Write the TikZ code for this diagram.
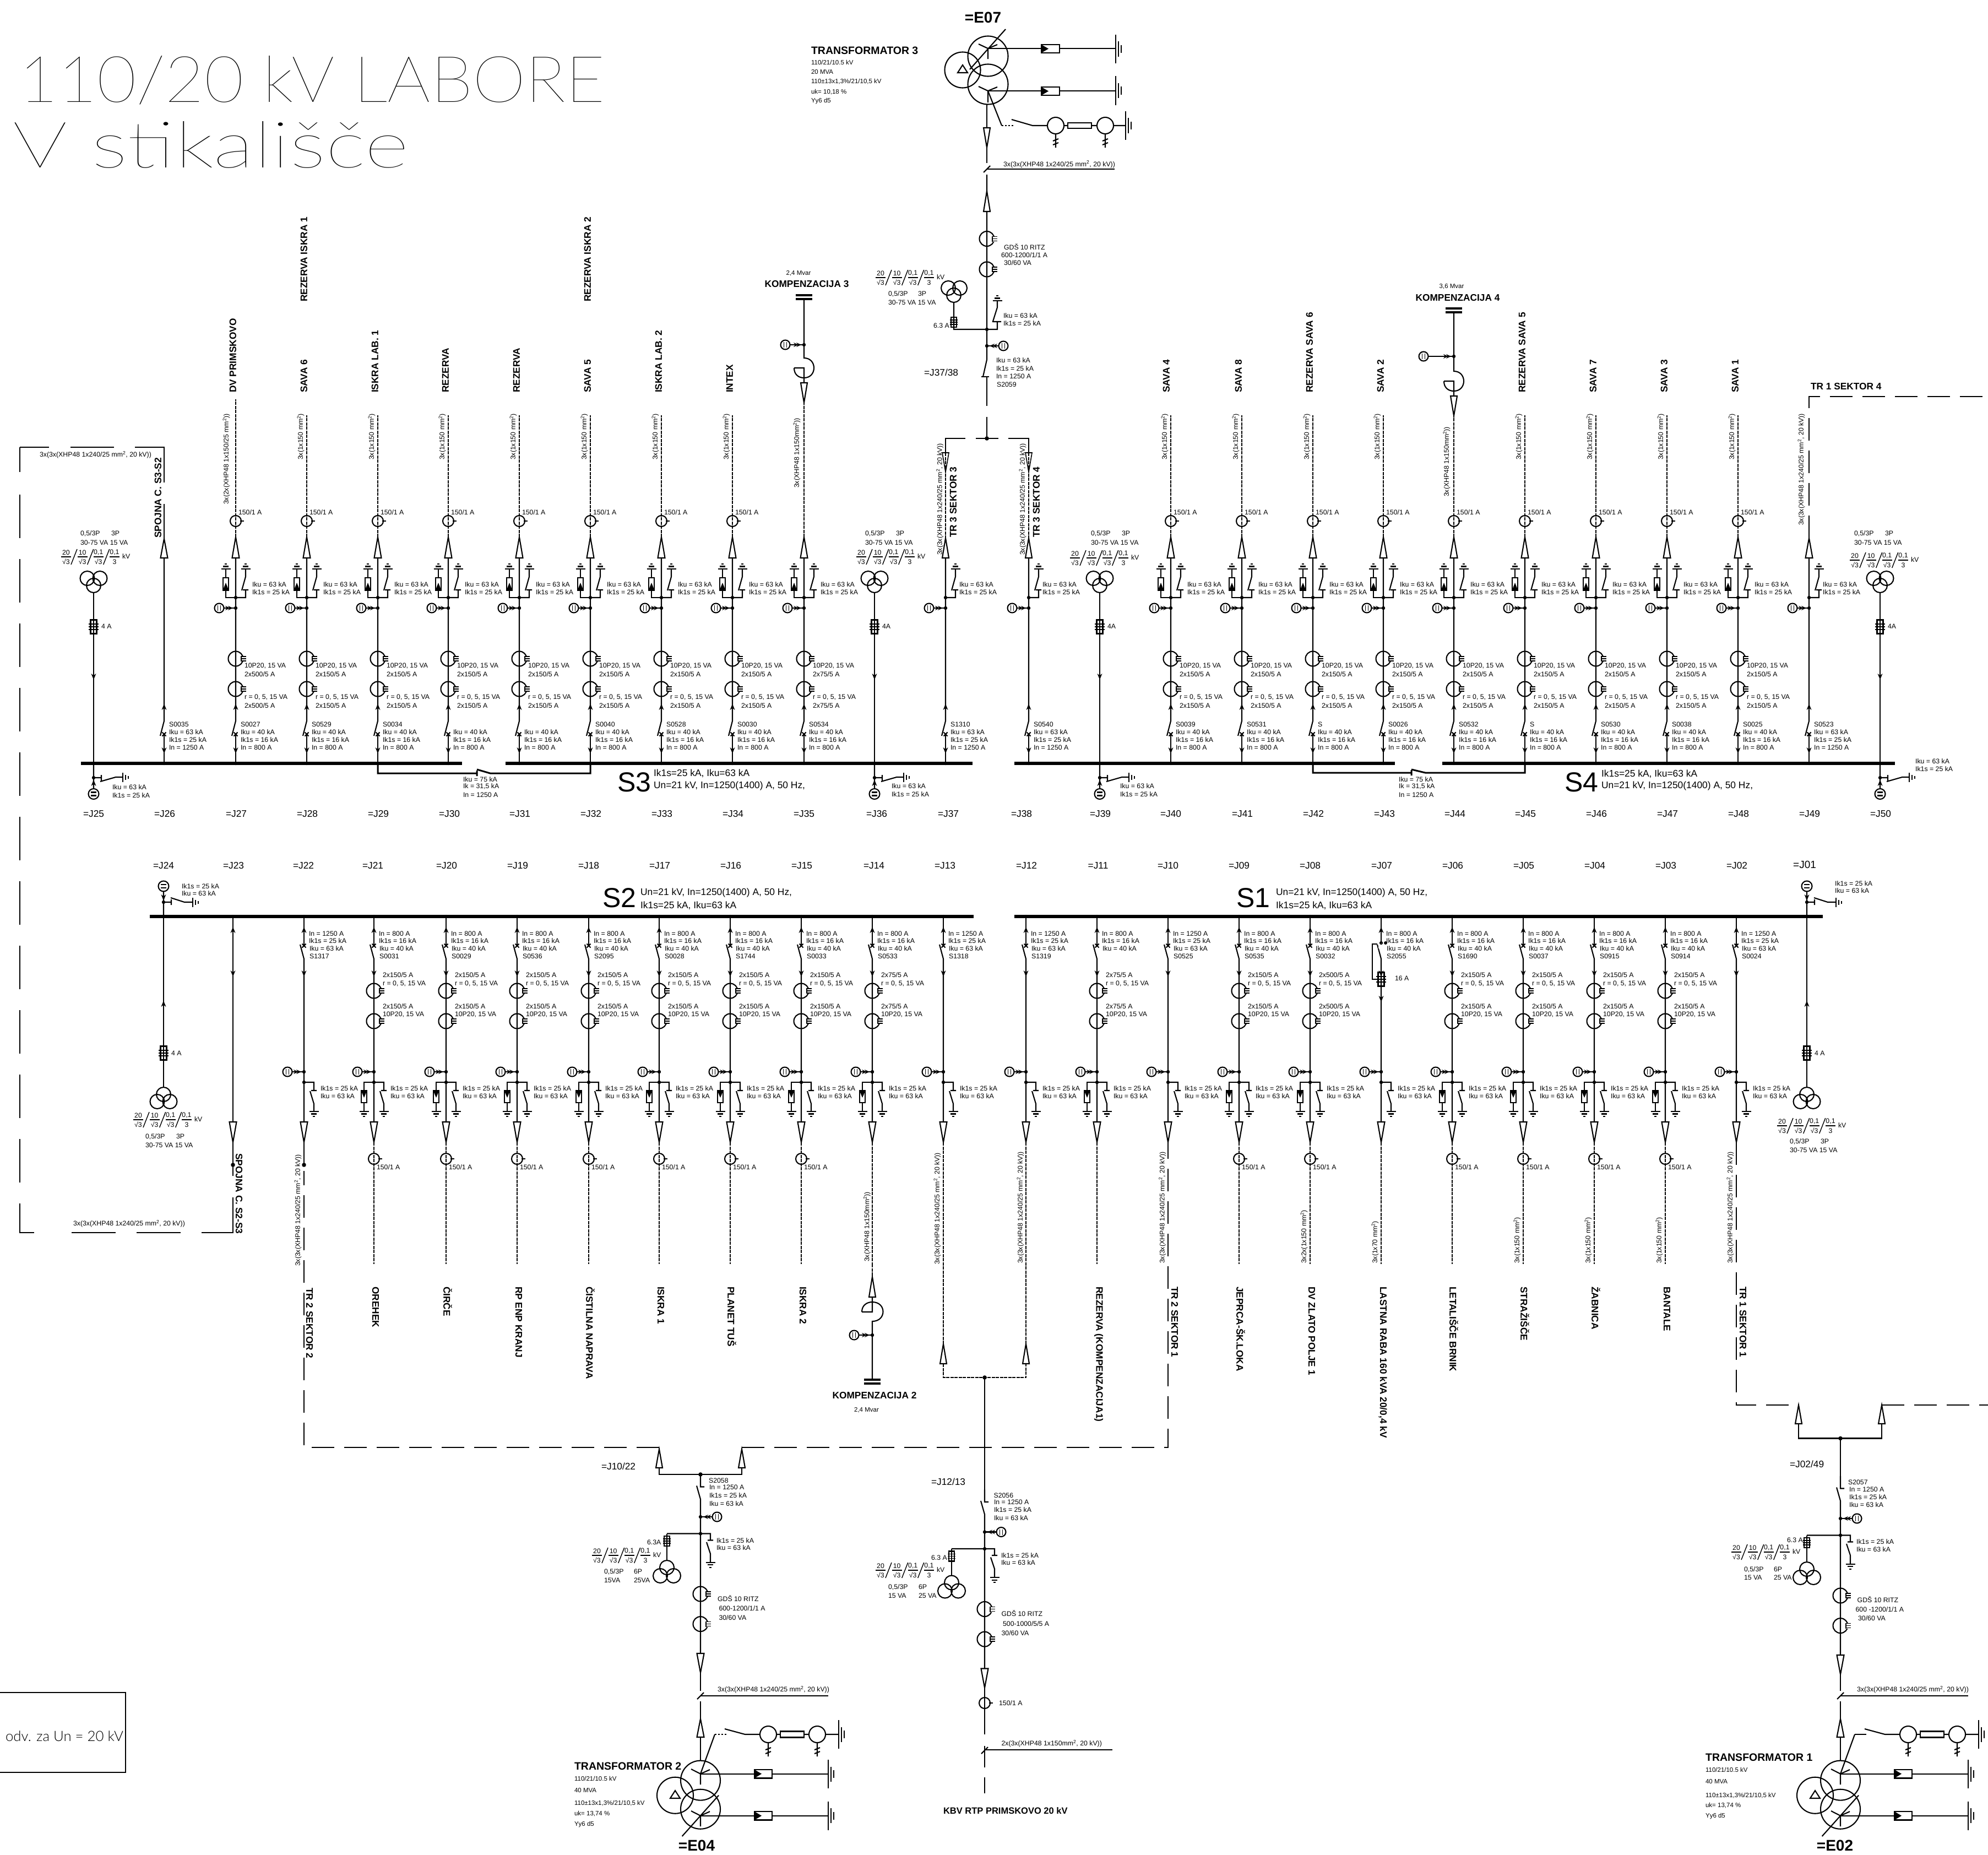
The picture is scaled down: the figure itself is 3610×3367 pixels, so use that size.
\documentclass[tikz,border=0pt]{standalone}
\usepackage{fontspec}
\setmainfont{Liberation Sans}
\setsansfont{Liberation Sans}
\newfontfamily\hairfont{Lato Hairline}
\newfontfamily\lightfont{Lato Light}
\newcounter{nn}
\tikzset{
 auton/.style={/utils/exec={\stepcounter{nn}},name=n\arabic{nn}},
 lab/.style={auton,inner sep=0pt,anchor=base west,yshift=-4.5pt,font=\fontsize{12.3}{14}\selectfont,black},
 trd/.style={auton,inner sep=0pt,anchor=base west,yshift=-4pt,font=\fontsize{11.5}{13}\selectfont},
 cab/.style={auton,inner sep=0pt,anchor=west,font=\fontsize{12.3}{14}\selectfont},
 fr/.style={auton,inner sep=0pt,font=\fontsize{12.3}{14}\selectfont},
 nmU/.style={auton,inner sep=0pt,anchor=west,rotate=90,font=\bfseries\fontsize{17.3}{19}\selectfont},
 nmD/.style={auton,inner sep=0pt,anchor=west,rotate=-90,font=\bfseries\fontsize{17.3}{19}\selectfont},
 jl/.style={auton,inner sep=0pt,font=\fontsize{17.3}{19}\selectfont},
 ttl/.style={auton,inner sep=0pt,font=\bfseries\fontsize{19.5}{21}\selectfont},
 ept/.style={auton,inner sep=0pt,font=\bfseries\fontsize{28}{30}\selectfont},
 sbig/.style={auton,inner sep=0pt,font=\fontsize{50}{52}\selectfont},
 smid/.style={auton,inner sep=0pt,anchor=west,font=\fontsize{17.4}{19}\selectfont},
 busbar/.style={line width=5.5pt},
 cpl/.style={line width=3pt},
 lng/.style={dash pattern=on 79pt off 38pt},
 mid/.style={dash pattern=on 41pt off 18pt},
 cabdash/.style={line width=1.7pt,dash pattern=on 6pt off 1.5pt},
 fine/.style={line width=1.4pt},
}
\newcommand\lb[3]{\node[lab] at (#1,#2) {#3};}
\newcommand\rlb[3]{\node[cab,rotate=90] at (#1,#2) {#3};}
\newcommand\kdot[2]{\fill (#1,#2) circle (3.2pt);}
\newcommand\chevU[2]{\fill (#1,#2) -- ++(-4.5,11) -- ++(4.5,-3.5) -- ++(4.5,3.5) -- cycle;}
\newcommand\chevD[2]{\fill (#1,#2) -- ++(-4.5,-11) -- ++(4.5,3.5) -- ++(4.5,-3.5) -- cycle;}
\newcommand\cross[2]{\draw ({#1-3.5},{#2-3.5}) -- ({#1+3.5},{#2+3.5}) ({#1-3.5},{#2+3.5}) -- ({#1+3.5},{#2-3.5});}
\newcommand\tri[4]{\draw[fill=white] (#1,#2) -- ({#1-#4},#3) -- ({#1+#4},#3) -- cycle;}
\newcommand\earthU[2]{\draw ({#1-8.5},#2) -- ({#1+8.5},#2) ({#1-5},{#2-4.5}) -- ({#1+5},{#2-4.5}) ({#1-2},{#2-9}) -- ({#1+2},{#2-9});}
\newcommand\earthD[2]{\draw ({#1-8.5},#2) -- ({#1+8.5},#2) ({#1-5},{#2+4.5}) -- ({#1+5},{#2+4.5}) ({#1-2},{#2+9}) -- ({#1+2},{#2+9});}
\newcommand\earthS[3]{\draw (#1,#2) -- (#1,#3) ({#1+5},{#2+(#3-#2)*.24}) -- ({#1+5},{#3-(#3-#2)*.24}) ({#1+10},{#2+(#3-#2)*.36}) -- ({#1+10},{#3-(#3-#2)*.36});}
\newcommand\ct[2]{\draw (#1,#2) circle (13.5pt);\fill[white] ({#1+9},{#2-5}) rectangle ({#1+16},{#2+5});
 \draw[fine] ({#1+9},{#2-4}) -- ({#1+19},{#2-4}) ({#1+9},#2) -- ({#1+19},#2) ({#1+9},{#2+4}) -- ({#1+19},{#2+4}) ({#1+10},{#2-5}) -- ({#1+10},{#2+5});}
\newcommand\term[2]{\draw (#1,#2) circle (10pt);\draw ({#1+8},#2) -- ({#1+15},#2);}
\newcommand\sensbody[2]{\draw (#1,#2) circle (8.5pt);\draw[fine] ({#1-2.5},{#2-5}) -- ({#1-2.5},{#2+5}) ({#1+2.5},{#2-5}) -- ({#1+2.5},{#2+5});}
% sensor: #1 line x, #2 y, #3 signed offset of the circle
\newcommand\sensL[3]{\sensbody{#1-#3}{#2}\draw ({#1-#3+8.5},#2) -- (#1,#2);
 \fill ({#1-5},#2) -- ++(-9,-4) -- ++(3,4) -- ++(-3,4) -- cycle;\fill ({#1-10},#2) -- ++(-9,-4) -- ++(3,4) -- ++(-3,4) -- cycle;\kdot{#1}{#2}}
\newcommand\sensR[3]{\sensbody{#1+#3}{#2}\draw ({#1+#3-8.5},#2) -- (#1,#2);
 \fill ({#1+5},#2) -- ++(9,-4) -- ++(-3,4) -- ++(3,4) -- cycle;\fill ({#1+10},#2) -- ++(9,-4) -- ++(-3,4) -- ++(3,4) -- cycle;\kdot{#1}{#2}}
\newcommand\fuse[2]{\draw ({#1-5.5},{#2-12.5}) rectangle ({#1+5.5},{#2+12.5});
 \draw[fine] ({#1-9},{#2-5}) -- ({#1+9},{#2-5}) ({#1-9},#2) -- ({#1+9},#2) ({#1-9},{#2+5}) -- ({#1+9},{#2+5}) (#1,{#2-12}) -- (#1,{#2+12});}
\newcommand\sfuse[2]{\draw ({#1-5},{#2-9}) rectangle ({#1+5},{#2+9});
 \draw[fine] ({#1-7},{#2-4}) -- ({#1+7},{#2-4}) ({#1-7},#2) -- ({#1+7},#2) ({#1-7},{#2+4}) -- ({#1+7},{#2+4});}
% ratio label of a voltage transformer
\newcommand\frc[2]{\begin{scope}[shift={(#1,#2)}]
 \foreach \fd/\ft/\fb in {-52/20/√3,-22.3/10/√3,6.7/{0,1}/√3,36/{0,1}/3}{
  \node[fr] at (\fd,-8) {\ft};\node[fr] at (\fd,9) {\fb};\draw[fine] ({\fd-9},0) -- ({\fd+9},0);}
 \foreach \fd in {-52,-22.3,6.7}{\draw[fine] ({\fd+9},14) -- ({\fd+20},-14);}
 \node[fr,anchor=west] at (49,-1) {kV};\end{scope}}
\newcommand\mmq{\textsuperscript{2}}
\newcommand\cabA{3x(3x(XHP48 1x240/25 mm\mmq, 20 kV))}
\newcommand\cabB{3x(1x150 mm\mmq)}
\newcommand\cabC{3x(XHP48 1x150mm\mmq))}
% ---------- top (S3,S4) bays
\newcommand\tsw[5]{\begin{scope}[shift={(#1,0)}]
 \coordinate (tA#1) at (0,1013);\coordinate (tB#1) at (0,1309);\coordinate (tC#1) at (0,1333);\coordinate (tD#1) at (0,1386);
 \draw (tA#1) -- (tB#1) -- (-7,1336);\draw (tC#1) -- (tD#1);\cross{0}{1333}
 \chevU{0}{1278}\chevD{0}{1368}\kdot{0}{1386}
 \lb{8}{1315}{#2}\lb{8}{1329}{#3}\lb{8}{1343}{#4}\lb{8}{1357}{#5}
 \end{scope}}
\newcommand\tearth[2]{\begin{scope}[shift={(#1,0)}]
 \draw (0,1085) -- (18,1085) -- (18,1071) (13,1071) -- (23,1071) (11,1072) -- (18,1047) -- (18,1033);\earthU{18}{1033}\kdot{0}{1085}
 \sensL{0}{1104}{30}\lb{#2}{1061}{Iku = 63 kA}\lb{#2}{1075}{Ik1s = 25 kA}\end{scope}}
\newcommand\tarr[1]{\begin{scope}[shift={(#1,0)}]
 \draw (0,1085) -- (-18,1085) -- (-18,1072) (-18,1049) -- (-18,1033);\earthU{-18}{1033}
 \draw (-23,1049) rectangle (-13,1072);\fill (-23.5,1072) -- (-12.5,1072) -- (-18,1058) -- cycle;\end{scope}}
\newcommand\tcts[2]{\begin{scope}[shift={(#1,0)}]\ct{0}{1196}\ct{0}{1251}
 \lb{15}{1208}{10P20, 15 VA}\lb{15}{1224}{#2}\lb{15}{1265}{r = 0, 5, 15 VA}\lb{15}{1281}{#2}\end{scope}}
\newcommand\tfull[5]{\tsw{#1}{#2}{Iku = 40 kA}{Ik1s = 16 kA}{In = 800 A}\tearth{#1}{29}\tarr{#1}\tcts{#1}{#3}
 \begin{scope}[shift={(#1,0)}]\draw[cabdash] (0,975) -- (0,#4);\tri{0}{975}{1013}{6.5}
 \ifnum#5=1 \term{0}{946}\lb{4}{930}{150/1 A}\fi\end{scope}}
% ---------- bottom (S2,S1) bays
\newcommand\bsw[5]{\begin{scope}[shift={(#1,0)}]
 \coordinate (bA#1) at (0,1664);\coordinate (bB#1) at (0,1717);\coordinate (bC#1) at (0,1741);\coordinate (bD#1) at (0,2037);
 \draw (bA#1) -- (bB#1);\draw (-7,1715) -- (bC#1) -- (bD#1);\cross{0}{1717}
 \chevU{0}{1683}\chevD{0}{1773}\kdot{0}{1664}
 \lb{8}{1695}{#2}\lb{8}{1708}{#3}\lb{9}{1722}{#4}\lb{9}{1736}{#5}
 \end{scope}}
\newcommand\bearth[1]{\begin{scope}[shift={(#1,0)}]
 \draw (0,1965) -- (18,1965) -- (18,1980) (13,1980) -- (23,1980) (11,1981) -- (18,2004) -- (18,2018);\earthD{18}{2018}\kdot{0}{1965}
 \sensL{0}{1946}{30}\lb{29}{1976}{Ik1s = 25 kA}\lb{29}{1990}{Iku = 63 kA}\end{scope}}
\newcommand\barr[1]{\begin{scope}[shift={(#1,0)}]
 \draw (0,1965) -- (-18,1965) -- (-18,1980) (-18,2002) -- (-18,2018);\earthD{-18}{2018}
 \draw (-23,1980) rectangle (-13,2002);\fill (-23.5,1980) -- (-12.5,1980) -- (-18,1993) -- cycle;\end{scope}}
\newcommand\bcts[2]{\begin{scope}[shift={(#1,0)}]\ct{0}{1799}\ct{0}{1854}
 \lb{15}{1770}{#2}\lb{15}{1785}{r = 0, 5, 15 VA}\lb{15}{1827}{#2}\lb{15}{1841}{10P20, 15 VA}\end{scope}}
\newcommand\bfeed[2]{\begin{scope}[shift={(#1,0)}]\draw[cabdash] (0,2074) -- (0,2295);\tri{0}{2074}{2037}{6.5}
 \ifnum#2=1 \term{0}{2104}\lb{4}{2119}{150/1 A}\fi\end{scope}}
\newcommand\bfull[4]{\bsw{#1}{In = 800 A}{Ik1s = 16 kA}{Iku = 40 kA}{#2}\bearth{#1}\barr{#1}\bcts{#1}{#3}\bfeed{#1}{#4}}
\newcommand\bplain[2]{\bsw{#1}{In = 1250 A}{Ik1s = 25 kA}{Iku = 63 kA}{#2}\bearth{#1}\begin{scope}[shift={(#1,0)}]\tri{0}{2074}{2037}{6.5}\end{scope}}
% ---------- voltage transformers on the busbars
\newcommand\vtT[5]{\begin{scope}[shift={(#1,0)}]
 \draw (-11.5,1050) circle (13pt) (11.5,1050) circle (13pt) (0,1063) circle (13pt);
 \coordinate (vA#1) at (0,1076);\coordinate (vB#1) at (0,1386);\draw (vA#1) -- (vB#1);\fuse{0}{1138}\chevD{0}{1234}\kdot{0}{1386}
 \lb{13}{1137}{#2}\lb{#3}{968}{0,5/3P}\lb{#3+56}{968}{3P}\lb{#3}{985}{30-75 VA 15 VA}\frc{#4}{#5}\end{scope}}
\newcommand\escT[3]{\begin{scope}[shift={(#1,0)}]
 \draw (0,1386) -- (0,1432) (0,1412) -- (14,1412) (14,1407) -- (14,1417) (12,1419) -- (40,1411) -- (53,1411);
 \earthS{53}{1403}{1420}\chevU{0}{1416}\kdot{0}{1412}\draw (0,1441.5) circle (9.5pt);\draw (-5,1438.5) -- (5,1438.5) (-5,1444.5) -- (5,1444.5);\end{scope}
 \lb{#2}{#3}{Iku = 63 kA}\lb{#2}{#3+14.5}{Ik1s = 25 kA}}
\newcommand\vtB[6]{\begin{scope}[shift={(#1,0)}]
 \draw (0,1987) circle (13pt) (-11.5,2000) circle (13pt) (11.5,2000) circle (13pt);
 \coordinate (wA#1) at (0,1664);\coordinate (wB#1) at (0,1974);\draw (wA#1) -- (wB#1);\fuse{0}{1912}\chevU{0}{1817}\kdot{0}{1664}
 \lb{13}{1912}{4 A}\lb{#2}{#5}{0,5/3P}\lb{#2+56}{#5}{3P}\lb{#2}{#5+16}{30-75 VA 15 VA}\frc{#3}{#4}\end{scope}}
\newcommand\escB[1]{\begin{scope}[shift={(#1,0)}]
 \draw (0,1664) -- (0,1618) (0,1638) -- (14,1638) (14,1633) -- (14,1643) (13,1630) -- (38,1638) -- (53,1638);
 \earthS{53}{1630}{1647}\chevD{0}{1635}\kdot{0}{1638}\draw (0,1609) circle (9.5pt);\draw (-5,1606) -- (5,1606) (-5,1612) -- (5,1612);\end{scope}}
% ---------- compensation plates
\newcommand\capp[2]{\draw[line width=3.4pt] ({#1-15},#2) -- ({#1+15},#2) ({#1-15},{#2+7}) -- ({#1+15},{#2+7});}
% ---------- outgoing feeders towards the transformers
\newcommand\feeder[4]{\begin{scope}[shift={(#1,#2)}]
 \draw (0,2677) -- (0,2699.5) -- (7,2699.5) (-7,2697.5) -- (0,2722) -- (0,3002);\sensR{0}{2754}{30}
 \draw (#3,2784.5) -- (18,2784.5) -- (18,2796.5) (13,2796.5) -- (23,2796.5) (11,2800) -- (18,2821) -- (18,2836.6);\earthD{18}{2836.6}\kdot{0}{2784.5}
 \draw (#3,2784.5) -- (#3,2833);\sfuse{#3}{2798}
 \draw (#3,2846) circle (13pt) ({#3-12},2861) circle (13pt) ({#3+12},2861) circle (13pt);
 \ct{0}{2894}\ct{0}{2948.6}\tri{0}{3037}{3002}{6.5}\end{scope}}
\newcommand\trafo[3]{\begin{scope}[shift={(#1,0)}]
 \coordinate (cA#1) at (0,3089);\coordinate (cB#1) at (0,3197);\draw (cA#1) -- (cB#1);\draw (0,3069.5) -- (0,3037);
 \draw (-6,3085) -- (6,3073);\tri{0}{3120.6}{3154}{6.5}
 \draw (0,3232.6) circle (36pt) (0,3284.7) circle (36pt) (-46,3259.7) circle (33pt);
 \draw (-46,3251) -- (-55,3265) -- (-37,3265) -- cycle;
 \draw (-17,3212) -- (0,3220.6) -- (17,3213) (0,3220.6) -- (0,3240);
 \draw (-17,3288) -- (0,3296.7) -- (17,3289) (0,3296.7) -- (0,3316);
 \draw (-33.4,3334) -- (33,3259.7);
 \draw (0,3220.6) -- (98,3220.6) (130,3220.6) -- (232,3220.6);\earthS{232}{3195}{3247}
 \draw (0,3296.7) -- (98,3296.7) (130,3296.7) -- (232,3296.7);\earthS{232}{3270.7}{3322.8}
 \draw (98,3213) rectangle (130,3228.5) (98,3289) rectangle (130,3304.5);
 \fill (98,3213) -- (111,3220.6) -- (98,3228.5) -- cycle (98,3289) -- (111,3296.7) -- (98,3304.5) -- cycle;
 \draw (0,3220.6) -- (26,3149);#2
 \draw (44,3139) -- (81,3149) -- (108,3149) (138,3149) -- (145,3149) (188,3149) -- (197,3149) (227,3149) -- (251,3149);
 \draw (145,3143.5) rectangle (188,3154.5);\earthS{251}{3123}{3175}
 \draw (123,3149) circle (15pt) (212,3149) circle (15pt);
 \draw (123,3164) -- (123,3189) (118,3177) -- (128,3173) (118,3184) -- (128,3180);
 \draw (212,3164) -- (212,3189) (207,3177) -- (217,3173) (207,3184) -- (217,3180);
 \end{scope}
 \draw (#1,3079) -- (#3,3079);}
\begin{document}
\begin{tikzpicture}[x=1pt,y=-1pt,line width=2.1pt,line cap=butt]
\useasboundingbox (0,0) rectangle (3610,3367);
\fill[white] (0,0) rectangle (3610,3367);
% title
\node[auton,inner sep=0pt,anchor=north west] at (33,100) {\resizebox{1064pt}{84pt}{\hairfont 110/20 kV LABORE}};
\node[auton,inner sep=0pt,anchor=north west] at (22,219) {\resizebox{719pt}{84pt}{\hairfont V stikališče}};
% legend box
\draw (0,3073) -- (228,3073) -- (228,3218) -- (0,3218);
\node[auton,inner sep=0pt,anchor=west,font=\lightfont\fontsize{18}{20}\selectfont] at (9,3152) {\resizebox{214pt}{!}{odv. za Un = 20 kV}};
% busbars
\coordinate (s3a) at (147,1386);\coordinate (s3b) at (839,1386);\coordinate (s3c) at (918,1386);\coordinate (s3d) at (1766,1386);
\coordinate (s4a) at (1842,1386);\coordinate (s4b) at (2533,1386);\coordinate (s4c) at (2619,1386);\coordinate (s4d) at (3441,1386);
\coordinate (s2a) at (272,1664);\coordinate (s2b) at (1768,1664);\coordinate (s1a) at (1842,1664);\coordinate (s1b) at (3310,1664);
\draw[busbar] (s3a) -- (s3b) (s3c) -- (s3d) (s4a) -- (s4b) (s4c) -- (s4d) (s2a) -- (s2b) (s1a) -- (s1b);
% couplers
\draw[cpl] (686,1386) -- (686,1404) -- (866,1404) (866,1399) -- (866,1409) (866,1397) -- (890,1404) -- (1072,1404) -- (1072,1386);
\draw[cpl] (2384,1386) -- (2384,1403) -- (2563,1403) (2563,1398) -- (2563,1408) (2563,1397) -- (2588,1403) -- (2769,1403) -- (2769,1386);
\foreach \xx in {840,2539}{\lb{\xx}{1415}{Iku = 75 kA}\lb{\xx}{1427}{Ik = 31,5 kA}\lb{\xx}{1443}{In = 1250 A}}
% busbar inscriptions
\node[sbig] at (1152,1420) {S3};\node[smid] at (1186,1404) {Ik1s=25 kA, Iku=63 kA};\node[smid] at (1186,1427) {Un=21 kV, In=1250(1400) A, 50 Hz,};
\node[sbig] at (2872,1420) {S4};\node[smid] at (2907,1405) {Ik1s=25 kA, Iku=63 kA};\node[smid] at (2907,1427) {Un=21 kV, In=1250(1400) A, 50 Hz,};
\node[sbig] at (1125,1630) {S2};\node[smid] at (1162,1621) {Un=21 kV, In=1250(1400) A, 50 Hz,};\node[smid] at (1162,1644) {Ik1s=25 kA, Iku=63 kA};
\node[sbig] at (2276,1630) {S1};\node[smid] at (2316,1621) {Un=21 kV, In=1250(1400) A, 50 Hz,};\node[smid] at (2316,1644) {Ik1s=25 kA, Iku=63 kA};
% panel numbers
\foreach \n/\x in {25/170,26/299,27/429,28/558,29/687,30/816,31/944,32/1073,33/1202,34/1331,35/1460,36/1592,37/1722,38/1855,39/1998,40/2126,41/2256,42/2385,43/2514,44/2642,45/2770,46/2899,47/3028,48/3157,49/3286,50/3415}{\node[jl] at (\x,1478) {=J\n};}
\foreach \n/\x in {24/297,23/424,22/551,21/677,20/811,19/940,18/1069,17/1198,16/1327,15/1456,14/1587,13/1716,12/1864,11/1994,10/2121,09/2250,08/2379,07/2509,06/2638,05/2767,04/2896,03/3025,02/3154}{\node[jl] at (\x,1572) {=J\n};}
\node[jl,font=\fontsize{19}{21}\selectfont] at (3277,1570) {=J01};
% ===== S3 / S4 bays
\tfull{428}{S0027}{2x500/5 A}{725}{1}
\tfull{557}{S0529}{2x150/5 A}{754}{1}
\tfull{686}{S0034}{2x150/5 A}{754}{1}
\tfull{814}{}{2x150/5 A}{754}{1}
\tfull{943}{}{2x150/5 A}{754}{1}
\tfull{1072}{S0040}{2x150/5 A}{754}{1}
\tfull{1201}{S0528}{2x150/5 A}{754}{1}
\tfull{1330}{S0030}{2x150/5 A}{754}{1}
\tfull{1460}{S0534}{2x75/5 A}{731}{0}
\tfull{2126}{S0039}{2x150/5 A}{754}{1}
\tfull{2255}{S0531}{2x150/5 A}{754}{1}
\tfull{2384}{S}{2x150/5 A}{754}{1}
\tfull{2512}{S0026}{2x150/5 A}{754}{1}
\tfull{2640}{S0532}{2x150/5 A}{755}{1}
\tfull{2769}{S}{2x150/5 A}{754}{1}
\tfull{2898}{S0530}{2x150/5 A}{754}{1}
\tfull{3027}{S0038}{2x150/5 A}{754}{1}
\tfull{3156}{S0025}{2x150/5 A}{754}{1}
\rlb{411}{917}{3x(2x(XHP48 1x150/25 mm\mmq))}
\foreach \x in {546,675,803,932,1061,1190,1319,2115,2244,2373,2501,2758,2887,3016,3145}{\rlb{\x}{836}{\cabB}}
\rlb{1447}{887}{\cabC}\rlb{2627}{903}{\cabC}
\foreach \x/\t in {423/DV PRIMSKOVO,552/SAVA 6,681/ISKRA LAB. 1,809/REZERVA,938/REZERVA,1067/SAVA 5,1196/ISKRA LAB. 2,1325/INTEX,2118/SAVA 4,2249/SAVA 8,2378/REZERVA SAVA 6,2507/SAVA 2,2764/REZERVA SAVA 5,2893/SAVA 7,3022/SAVA 3,3151/SAVA 1}{\node[nmU] at (\x,714) {\t};}
\node[nmU] at (552,549) {REZERVA ISKRA 1};\node[nmU] at (1067,549) {REZERVA ISKRA 2};
% compensation 3 and 4
\begin{scope}[shift={(1460,0)}]
 \capp{0}{536}\sensL{0}{626}{34}\draw (0,544) -- (0,650) .. controls (24,650) and (24,686) .. (0,686) -- (0,695) (-18,668) -- (0,668) -- (0,686) .. controls (-10,686) and (-18,680) .. (-18,668);\tri{0}{731}{695}{6}
\end{scope}
\begin{scope}[shift={(2640,24)}]
 \capp{0}{536}\sensL{0}{623}{55}\draw (0,544) -- (0,650) .. controls (24,650) and (24,686) .. (0,686) -- (0,695) (-18,668) -- (0,668) -- (0,686) .. controls (-10,686) and (-18,680) .. (-18,668);\tri{0}{731}{695}{6}
\end{scope}
\node[ttl,font=\bfseries\fontsize{17.3}{19}\selectfont] at (1465,516) {KOMPENZACIJA 3};\node[trd,anchor=center,yshift=0pt] at (1450,492) {2,4 Mvar};
\node[ttl,font=\bfseries\fontsize{17.3}{19}\selectfont] at (2647,541) {KOMPENZACIJA 4};\node[trd,anchor=center,yshift=0pt] at (2636,516) {3,6 Mvar};
% J26 coupling cable
\tsw{298}{S0035}{Iku = 63 kA}{Ik1s = 25 kA}{In = 1250 A}
\tri{298}{978}{1013}{6.5}
\draw (36,812) -- (89,812) (128,812) -- (207,812) (245,812) -- (298,812) -- (298,876) (298,915) -- (298,978);
\draw (36,812) -- (36,857);\draw[lng] (36,898) -- (36,2238) -- (92,2238);
\draw (130,2238) -- (210,2238) (248,2238) -- (328,2238) (366,2238) -- (423,2238) -- (423,2174) (423,2135) -- (423,2074);
\node[nmU] at (287,978) {SPOJNA C. S3-S2};
\node[cab] at (71,826) {\cabA};
\node[cab] at (132,2222) {\cabA};
% J37 J38 J49
\tsw{1717}{S1310}{Iku = 63 kA}{Ik1s = 25 kA}{In = 1250 A}\tearth{1717}{24}
\tsw{1868}{S0540}{Iku = 63 kA}{Ik1s = 25 kA}{In = 1250 A}\tearth{1868}{24}
\tsw{3285}{S0523}{Iku = 63 kA}{Ik1s = 25 kA}{In = 1250 A}\tearth{3285}{24}
\coordinate (sp) at (1792,796);
\draw (1717,822) -- (1717,796) -- (1753,796) (1772,796) -- (1813,796) (1831,796) -- (1868,796) -- (1868,822);
\draw (1792,757) -- (sp);\fill (sp) circle (3.8pt);
\foreach \x in {1717,1868}{\draw[cabdash] (\x,822) -- (\x,977);\draw[line width=1.6pt] ({\x-6},822) -- ({\x+6},822) -- (\x,857) -- cycle;\tri{\x}{977}{1013}{6}}
\rlb{1706.7}{1009}{\cabA}\rlb{1857}{1009}{\cabA}
\node[nmU] at (1731,977) {TR 3 SEKTOR 3};\node[nmU] at (1882,977) {TR 3 SEKTOR 4};
\tri{3285}{977}{1013}{6.5}
\draw[mid] (3285,977) -- (3285,720) -- (3610,720);
\rlb{3271}{955}{\cabA}
\node[auton,inner sep=0pt,anchor=west,font=\bfseries\fontsize{17.3}{19}\selectfont] at (3287,702) {TR 1 SEKTOR 4};
% VTs on S3 S4
\vtT{170}{4 A}{-25}{2}{1011}\escT{170}{203}{1429}
\vtT{1588}{4A}{-18}{28}{1011}\escT{1588}{1618}{1427}
\vtT{1997}{4A}{-17}{7}{1013}\escT{1997}{2033}{1427}
\vtT{3414}{4A}{-48}{6}{1017}\escT{3414}{3477}{1381.5}
% ===== S2 / S1 bays
\bfull{679}{S0031}{2x150/5 A}{1}
\bfull{810}{S0029}{2x150/5 A}{1}
\bfull{939}{S0536}{2x150/5 A}{1}
\bfull{1069}{S2095}{2x150/5 A}{1}
\bfull{1197}{S0028}{2x150/5 A}{1}
\bfull{1326}{S1744}{2x150/5 A}{1}
\bfull{1455}{S0033}{2x150/5 A}{1}
\bfull{1584}{S0533}{2x75/5 A}{0}
\bfull{1992}{}{2x75/5 A}{0}
\bfull{2250}{S0535}{2x150/5 A}{1}
\bfull{2379}{S0032}{2x500/5 A}{1}
\bfull{2637}{S1690}{2x150/5 A}{1}
\bfull{2766}{S0037}{2x150/5 A}{1}
\bfull{2895}{S0915}{2x150/5 A}{1}
\bfull{3024}{S0914}{2x150/5 A}{1}
\bplain{552}{S1317}\bplain{1713}{S1318}\bplain{1863}{S1319}\bplain{2121}{S0525}\bplain{3153}{S0024}
% J07 auxiliary transformer panel
\bsw{2508}{In = 800 A}{Ik1s = 16 kA}{Iku = 40 kA}{S2055}\bearth{2508}\bfeed{2508}{0}
\begin{scope}[shift={(2508,0)}]
 \fill[white] (-5,1712) rectangle (5,1722);\draw (0,1712) circle (2pt);\fill (8,1712) circle (3pt);
 \draw (-7,1714) -- (-16,1714) -- (-16,1778) -- (0,1778);\fuse{0}{1778}\chevD{0}{1819}\lb{24}{1776}{16 A}
\end{scope}
\foreach \x in {2755,2884,3013}{\rlb{\x}{2295}{\cabB}}
\rlb{2368}{2295}{3x2x(1x150 mm\mmq)}
\rlb{2497}{2295}{3x(1x70 mm\mmq)}
\foreach \x/\t in {682/OREHEK,813/ČIRČE,942/RP ENP KRANJ,1072/ČISTILNA NAPRAVA,1200/ISKRA 1,1329/PLANET TUŠ,1458/ISKRA 2,1995/{REZERVA (KOMPENZACIJA1)},2253/JEPRCA-ŠK.LOKA,2382/DV ZLATO POLJE 1,2511/{LASTNA RABA 160 kVA 20/0,4 kV},2640/LETALIŠČE BRNIK,2769/STRAŽIŠČE,2898/ŽABNICA,3027/BANTALE}{\node[nmD] at (\x,2335) {\t};}
% J23 coupling cable
\coordinate (j23a) at (423,1664);\coordinate (j23b) at (423,2037);
\draw (j23a) -- (j23b);\kdot{423}{1664}\chevU{423}{1683}\chevD{423}{1773}\tri{423}{2074}{2037}{6.5}\fill (423,2115) circle (3.8pt);
\node[nmD] at (434,2093) {SPOJNA C. S2-S3};
% J22 J10 J02 J12 J13 J14 cables and labels
\draw (552,2074) -- (552,2115);\fill (552,2115) circle (3.8pt);
\draw[mid] (1197,2628) -- (552,2628) -- (552,2126);
\draw[mid] (1347,2628) -- (2121,2628) -- (2121,2074);
\draw[mid] (3153,2074) -- (3153,2551) -- (3266,2551);
\draw[mid] (3417,2551) -- (3610,2551);
\rlb{541}{2300}{\cabA}\rlb{1702}{2297}{\cabA}\rlb{1853}{2295}{\cabA}\rlb{2110.7}{2295}{\cabA}\rlb{3142}{2295}{\cabA}
\node[nmD] at (562,2337) {TR 2 SEKTOR 2};\node[nmD] at (2133,2335) {TR 2 SEKTOR 1};\node[nmD] at (3165,2335) {TR 1 SEKTOR 1};
\draw[cabdash] (1713,2074) -- (1713,2440) (1863,2074) -- (1863,2440) (1713,2476) -- (1713,2501) -- (1863,2501) -- (1863,2476);
\tri{1713}{2440}{2476}{6}\tri{1863}{2440}{2476}{6}
% compensation 2
\begin{scope}[shift={(1584,0)}]
 \draw[cabdash] (0,2295) -- (0,2318);\tri{0}{2318}{2355}{6}\capp{0}{2505}\sensL{0}{2424}{33}
 \draw (0,2355) -- (0,2364) .. controls (26,2364) and (26,2399) .. (0,2399) -- (0,2505) (-19,2382) -- (0,2382) -- (0,2364) .. controls (-10,2364) and (-19,2370) .. (-19,2382);
\end{scope}
\rlb{1574.5}{2292}{\cabC}
\node[ttl,font=\bfseries\fontsize{17.3}{19}\selectfont] at (1588,2534) {KOMPENZACIJA 2};\node[trd,anchor=center,yshift=0pt] at (1573.5,2556) {2,4 Mvar};
% VTs on S2 S1
\vtB{297}{-34}{6}{2033}{2063}{}\escB{297}\lb{329}{1609}{Ik1s = 25 kA}\lb{329}{1622}{Iku = 63 kA}
\vtB{3281}{-32}{7}{2044}{2072}{}\escB{3281}\lb{3331}{1604}{Ik1s = 25 kA}\lb{3331}{1617}{Iku = 63 kA}
% ===== E04 group
\coordinate (t2a) at (1197,2677);\coordinate (t2b) at (1347,2677);\coordinate (t2c) at (1272,2677);
\draw (1197,2665) -- (t2a) -- (t2b) -- (1347,2665);\tri{1197}{2631}{2665}{6}\tri{1347}{2631}{2665}{6}\fill (t2c) circle (3.8pt);
\feeder{1272}{0}{-61}{}\trafo{1272}{\draw[dashed] (26,3149) -- (47,3149);}{1504}
\node[jl,anchor=west] at (1091,2662) {=J10/22};
\lb{1286}{2688}{S2058}\lb{1287}{2700}{In = 1250 A}\lb{1287}{2715}{Ik1s = 25 kA}\lb{1287}{2730}{Iku = 63 kA}
\lb{1300}{2797}{Ik1s = 25 kA}\lb{1300}{2810}{Iku = 63 kA}\lb{1174}{2800}{6.3A}
\frc{1136}{2824}\lb{1096}{2853}{0,5/3P}\lb{1150}{2853}{6P}\lb{1096}{2869}{15VA}\lb{1150}{2869}{25VA}
\lb{1302}{2903}{GDŠ 10 RITZ}\lb{1304.5}{2920}{600-1200/1/1 A}\lb{1304.5}{2937}{30/60 VA}
\lb{1302}{3067}{\cabA}
\node[ttl,anchor=west] at (1042,3207) {TRANSFORMATOR 2};
\node[trd] at (1042,3229) {110/21/10.5 kV};\node[trd] at (1042,3250) {40 MVA};\node[trd] at (1042,3273) {110±13x1,3\%/21/10,5 kV};\node[trd] at (1042,3292) {uk= 13,74 \%};\node[trd] at (1042,3311) {Yy6 d5};
\node[ept] at (1265,3351) {=E04};
% ===== E02 group
\coordinate (t1a) at (3266,2611.5);\coordinate (t1b) at (3417,2611.5);\coordinate (t1c) at (3342,2611.5);
\draw (3266,2585) -- (t1a) -- (t1b) -- (3417,2585);\tri{3266}{2551}{2585}{6}\tri{3417}{2551}{2585}{6}\fill (t1c) circle (3.8pt);
\draw (t1c) -- (3342,2680);
\feeder{3342}{3}{-61}{}\trafo{3342}{\draw (26,3149) -- (47,3149);}{3574}
\node[jl,anchor=west] at (3249,2658) {=J02/49};
\lb{3355}{2691}{S2057}\lb{3357}{2704}{In = 1250 A}\lb{3357}{2718}{Ik1s = 25 kA}\lb{3357}{2732}{Iku = 63 kA}
\lb{3370}{2799}{Ik1s = 25 kA}\lb{3370}{2813}{Iku = 63 kA}\lb{3244}{2796}{6.3 A}
\frc{3205}{2818}\lb{3166}{2849}{0,5/3P}\lb{3220}{2849}{6P}\lb{3166}{2864}{15 VA}\lb{3220}{2864}{25 VA}
\lb{3371.6}{2905}{GDŠ 10 RITZ}\lb{3368.5}{2921.5}{600 -1200/1/1 A}\lb{3373}{2938}{30/60 VA}
\lb{3371}{3067}{\cabA}
\node[ttl,anchor=west] at (3096,3191) {TRANSFORMATOR 1};
\node[trd] at (3096,3213) {110/21/10.5 kV};\node[trd] at (3096,3234) {40 MVA};\node[trd] at (3096,3259) {110±13x1,3\%/21/10,5 kV};\node[trd] at (3096,3277) {uk= 13,74 \%};\node[trd] at (3096,3296) {Yy6 d5};
\node[ept] at (3332,3351) {=E02};
% ===== KBV Primskovo group
\coordinate (kb) at (1788,2501);\coordinate (kc) at (1788,2705);
\draw (kb) -- (kc);\fill (kb) circle (3.8pt);
\feeder{1788}{27.5}{-60}{}
\draw (1788,3064.5) -- (1788,3149) (1788,3170) -- (1788,3209) (1788,3227) -- (1788,3256);
\term{1788}{3092}\draw (1782,3184) -- (1794,3172);\draw (1788,3177) -- (2020,3177);
\node[jl,anchor=west] at (1690,2690) {=J12/13};
\lb{1803.5}{2715}{S2056}\lb{1804}{2727}{In = 1250 A}\lb{1804}{2741}{Ik1s = 25 kA}\lb{1804}{2756}{Iku = 63 kA}
\lb{1817}{2824}{Ik1s = 25 kA}\lb{1817}{2837}{Iku = 63 kA}\lb{1690}{2828}{6.3 A}
\frc{1651}{2851}\lb{1612}{2881}{0,5/3P}\lb{1667}{2881}{6P}\lb{1612}{2897}{15 VA}\lb{1667}{2897}{25 VA}
\lb{1817.5}{2930}{GDŠ 10 RITZ}\lb{1820}{2948}{500-1000/5/5 A}\lb{1817.5}{2965}{30/60 VA}
\lb{1813}{3092}{150/1 A}\lb{1817.5}{3165}{2x(3x(XHP48 1x150mm\mmq, 20 kV))}
\node[auton,inner sep=0pt,anchor=west,font=\bfseries\fontsize{16.5}{18}\selectfont] at (1712,3288) {KBV RTP PRIMSKOVO 20 kV};
% ===== E07 group
\coordinate (e7a) at (1792,189);\coordinate (e7b) at (1792,296);\coordinate (e7c) at (1792,317);\coordinate (e7d) at (1792,653);
\draw (e7a) -- (e7b);\draw (e7c) -- (e7d) -- (1785,684);\draw (1792,684) -- (1792,737) (1782,684) -- (1796,684);
\tri{1792}{268}{232}{6}\tri{1792}{347}{384}{6}
\draw (1794,102) circle (36.5pt) (1794,153) circle (36.5pt) (1748,127) circle (32.5pt);
\draw (1748,118) -- (1739,132) -- (1757,132) -- cycle;
\draw (1761,126) -- (1826,53);
\draw (1777,80) -- (1794,88) -- (1811,81) (1794,88) -- (1794,107);
\draw (1777,157) -- (1794,165) -- (1811,158) (1794,165) -- (1794,186);
\draw (1794,88) -- (1891,88) (1924,88) -- (2026,88) (1794,165) -- (1891,165) (1924,165) -- (2026,165);
\draw (1891,81) rectangle (1924,96) (1891,158) rectangle (1924,173);
\fill (1891,81) -- (1904,88.5) -- (1891,96) -- cycle (1891,158) -- (1904,165.5) -- (1891,173) -- cycle;
\earthS{2026}{63}{115}\earthS{2026}{138}{191}
\draw (1794,165) -- (1819,228);\draw[dashed] (1819,228) -- (1840,228);
\draw (1837,217) -- (1875,228) -- (1902,228) (1932,228) -- (1939,228) (1982,228) -- (1992,228) (2022,228) -- (2044,228);
\draw (1917,228) circle (15pt) (2007,228) circle (15pt);\draw (1939,223) rectangle (1982,233);
\draw (1917,243) -- (1917,268) (1912,256) -- (1922,252) (1912,263) -- (1922,259);
\draw (2007,243) -- (2007,268) (2002,256) -- (2012,252) (2002,263) -- (2012,259);
\earthS{2044}{202}{254}
\draw (1786,313) -- (1798,301);\draw (1792,307) -- (2024,307);
\lb{1821}{297.5}{\cabA}
\ct{1792}{433.5}\ct{1792}{489}
\draw (1732,550) -- (1732,598) -- (1811,598) -- (1811,584) (1804,584) -- (1818,584) (1802.5,585) -- (1811,558) -- (1811,545);\earthU{1811}{546}
\sfuse{1732}{585}\kdot{1792}{598}\sensR{1792}{628}{30}
\draw (1722,523) circle (13pt) (1743,523) circle (13pt) (1732,536) circle (13pt);
\node[ttl,anchor=west] at (1472,92) {TRANSFORMATOR 3};
\node[trd] at (1472,113) {110/21/10.5 kV};\node[trd] at (1472,130) {20 MVA};\node[trd] at (1472,147) {110±13x1,3\%/21/10,5 kV};\node[trd] at (1472,166) {uk= 10,18 \%};\node[trd] at (1472,182) {Yy6 d5};
\node[ept] at (1785,32) {=E07};
\lb{1822}{449}{GDŠ 10 RITZ}\lb{1817}{463}{600-1200/1/1 A}\lb{1822}{477}{30/60 VA}
\frc{1651}{504}\lb{1612}{533}{0,5/3P}\lb{1666}{533}{3P}\lb{1612}{549}{30-75 VA 15 VA}\lb{1694}{591}{6.3 A}
\lb{1821}{573}{Iku = 63 kA}\lb{1821}{587}{Ik1s = 25 kA}
\lb{1808}{654}{Iku = 63 kA}\lb{1808}{669}{Ik1s = 25 kA}\lb{1808}{683}{In = 1250 A}\lb{1809}{698}{S2059}
\node[jl,anchor=west] at (1677,676) {=J37/38};
\end{tikzpicture}
\end{document}
